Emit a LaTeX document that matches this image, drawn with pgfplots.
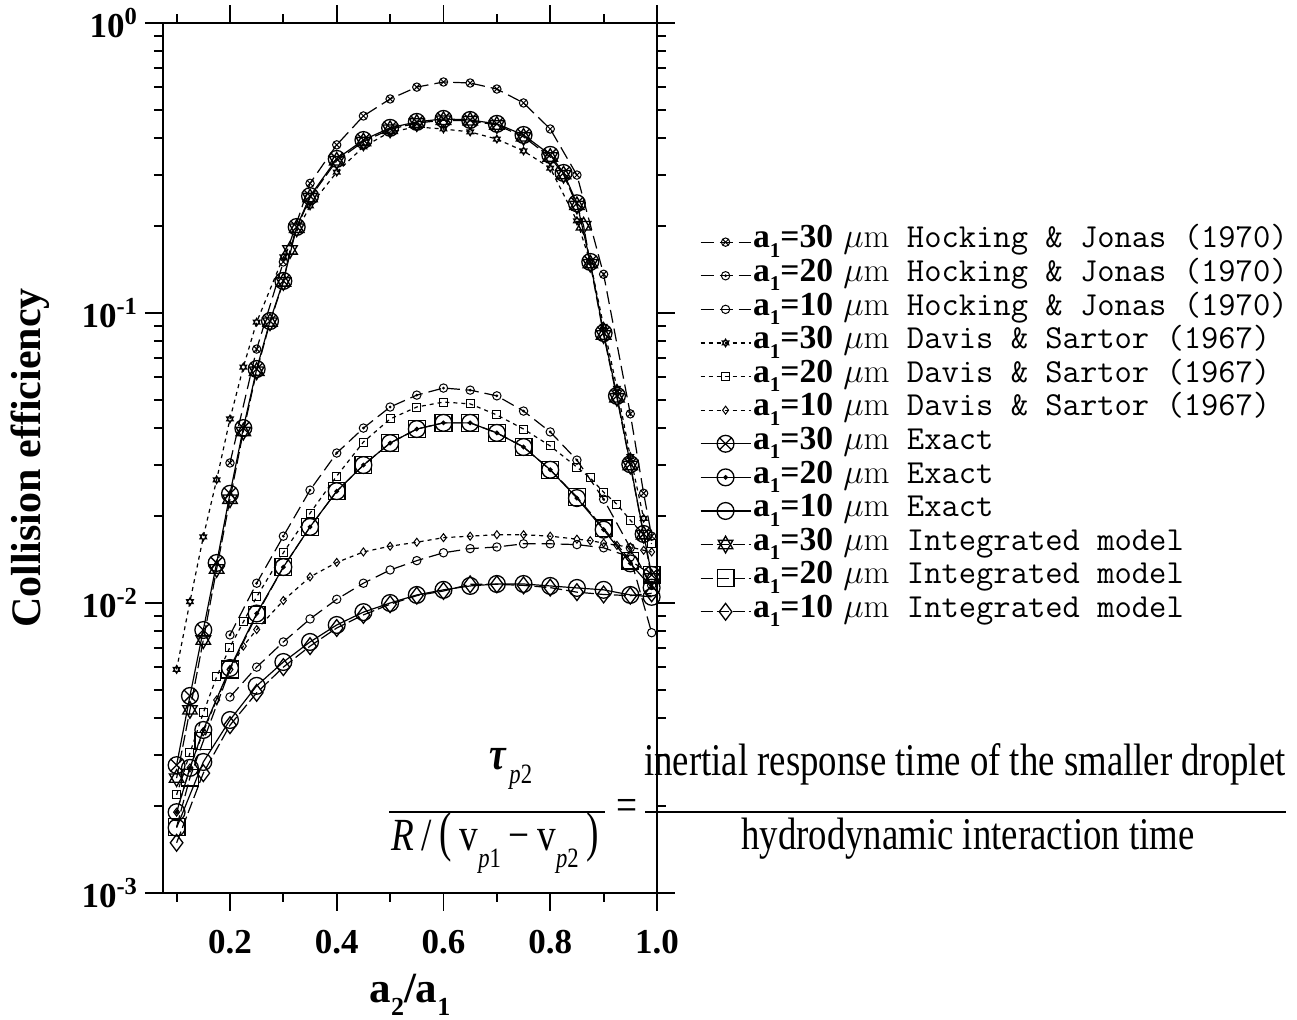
\documentclass[border=0pt]{standalone}
\usepackage{fontspec}
\usepackage{graphicx}
\usepackage{pgfplots}
\pgfplotsset{compat=1.18}
\usetikzlibrary{plotmarks}
\newfontfamily\timesf{Liberation Serif}
\newfontfamily\timescond[FakeStretch=0.81]{Liberation Serif}

% small lowered index for the droplet radii
\newcommand{\idx}[2]{\raisebox{-0.28em}{\fontsize{#2}{#2}\selectfont #1}}
\newcommand{\aone}[1]{{\timesf\bfseries a\idx{1}{10.5}=#1}}

% circle with a centre dot
\pgfdeclareplotmark{odot}{%
  \pgfpathcircle{\pgfpointorigin}{\pgfplotmarksize}\pgfusepathqstroke
  \pgfpathcircle{\pgfpointorigin}{0.2\pgfplotmarksize}\pgfusepathqfillstroke}
% six-pointed star made of two triangles
\pgfdeclareplotmark{hexagram}{%
  \pgfpathmoveto{\pgfpointpolar{90}{\pgfplotmarksize}}%
  \pgfpathlineto{\pgfpointpolar{210}{\pgfplotmarksize}}%
  \pgfpathlineto{\pgfpointpolar{330}{\pgfplotmarksize}}%
  \pgfpathclose
  \pgfpathmoveto{\pgfpointpolar{270}{\pgfplotmarksize}}%
  \pgfpathlineto{\pgfpointpolar{30}{\pgfplotmarksize}}%
  \pgfpathlineto{\pgfpointpolar{150}{\pgfplotmarksize}}%
  \pgfpathclose
  \pgfusepathqstroke}

\pgfplotsset{
  hj/.style={line width=0.6pt, dash pattern=on 6.5pt off 3pt, mark options={solid, line width=0.5pt}, mark size=2.1pt},
  ds/.style={line width=0.6pt, dash pattern=on 2pt off 2pt, mark options={solid, line width=0.5pt}, mark size=2pt},
  ex/.style={line width=0.6pt, solid, mark options={solid, line width=0.65pt}, mark size=4.2pt},
  im/.style={line width=0.6pt, dash pattern=on 6pt off 2pt, mark options={solid, line width=0.65pt}, mark size=4.2pt},
}

\begin{document}
\begin{tikzpicture}
\useasboundingbox (-81.5pt,-63.5pt) rectangle (567pt,446.5pt);
\begin{axis}[
  at={(0pt,0pt)}, anchor=south west,
  scale only axis, width=247pt, height=435pt,
  xmin=0.0745, xmax=1.0,
  ymode=log, ymin=1e-3, ymax=1,
  clip=false,
  xtick={0.2,0.4,0.6,0.8,1.0},
  xticklabels={0.2,0.4,0.6,0.8,1.0},
  minor xtick={0.1,0.3,0.5,0.7,0.9},
  ytick={1e-3,1e-2,1e-1,1},
  yticklabels={10\textsuperscript{-3},10\textsuperscript{-2},10\textsuperscript{-1},10\textsuperscript{0}},
  minor ytick={2e-3,3e-3,4e-3,5e-3,6e-3,7e-3,8e-3,9e-3,
               2e-2,3e-2,4e-2,5e-2,6e-2,7e-2,8e-2,9e-2,
               2e-1,3e-1,4e-1,5e-1,6e-1,7e-1,8e-1,9e-1},
  tick align=outside,
  major tick length=9pt, minor tick length=4.5pt,
  every tick/.style={black, line width=0.9pt},
  axis line style={line width=0.9pt},
  ticklabel style={font=\timesf\bfseries\fontsize{17.5}{17.5}\selectfont},
  xticklabel style={yshift=-6pt},
  xlabel={a\idx{2}{13}/a\idx{1}{13}},
  ylabel={Collision efficiency},
  xlabel style={at={(axis description cs:0.5,0)}, anchor=base, yshift=-55pt,
                font=\timesf\bfseries\fontsize{21.5}{21.5}\selectfont},
  ylabel style={at={(axis description cs:-0.269,0.5)}, anchor=center,
                font=\timesf\bfseries\fontsize{21}{21}\selectfont},
  legend image code/.code={\draw[mark repeat=2,mark phase=2,#1]
      plot coordinates {(0pt,0pt) (12.5pt,0pt) (25pt,0pt)};},
  legend style={at={(1.087,0.7674)}, anchor=north west, draw=none, fill=none,
      inner sep=0pt, outer sep=0pt, row sep=0pt, column sep=1pt,
      font=\fontsize{16.8}{16.8}\selectfont,
      nodes={inner sep=0pt, text height=11.3pt, text depth=5.5pt},
      cells={anchor=west}},
]
% Hocking & Jonas (1970)
\addplot[hj, mark=otimes] coordinates {
 (0.2,0.0304) (0.25,0.0751) (0.3,0.150) (0.35,0.280) (0.4,0.380) (0.45,0.478)
 (0.5,0.547) (0.55,0.601) (0.6,0.626) (0.65,0.621) (0.7,0.592) (0.75,0.530)
 (0.8,0.431) (0.85,0.299) (0.9,0.136) (0.95,0.0449) (0.975,0.0239) (0.99,0.0170)};
\addlegendentry{\aone{30} $\mu$m\texttt{ Hocking \& Jonas (1970)}}
\addplot[hj, mark=odot] coordinates {
 (0.2,0.00776) (0.25,0.0117) (0.3,0.0170) (0.35,0.0245) (0.4,0.0329) (0.45,0.0401)
 (0.5,0.0474) (0.55,0.0521) (0.6,0.0551) (0.65,0.0542) (0.7,0.0518) (0.75,0.0459)
 (0.8,0.0389) (0.85,0.0311) (0.9,0.0228) (0.95,0.0155) (0.99,0.0115)};
\addlegendentry{\aone{20} $\mu$m\texttt{ Hocking \& Jonas (1970)}}
\addplot[hj, mark=o] coordinates {
 (0.2,0.00474) (0.25,0.00601) (0.3,0.00734) (0.35,0.00881) (0.4,0.0103) (0.45,0.0117)
 (0.5,0.0130) (0.55,0.0140) (0.6,0.0149) (0.65,0.0154) (0.7,0.0156) (0.75,0.0160)
 (0.8,0.0160) (0.85,0.0159) (0.9,0.0155) (0.95,0.0144) (0.99,0.0079)};
\addlegendentry{\aone{10} $\mu$m\texttt{ Hocking \& Jonas (1970)}}
% Davis & Sartor (1967)
\addplot[ds, mark=hexagram] coordinates {
 (0.1,0.0059) (0.125,0.0101) (0.15,0.0169) (0.175,0.0266) (0.2,0.0431) (0.225,0.0651)
 (0.25,0.093) (0.3,0.156) (0.35,0.234) (0.4,0.306) (0.45,0.374) (0.5,0.421)
 (0.55,0.438) (0.6,0.431) (0.65,0.421) (0.7,0.398) (0.75,0.362) (0.8,0.316)
 (0.85,0.208) (0.875,0.150) (0.9,0.090) (0.925,0.055) (0.95,0.032) (0.975,0.0196)};
\addlegendentry{\aone{30} $\mu$m\texttt{ Davis \& Sartor (1967)}}
\addplot[ds, mark=square] coordinates {
 (0.1,0.00218) (0.125,0.00304) (0.15,0.00418) (0.175,0.00556) (0.2,0.00705) (0.225,0.0086)
 (0.25,0.0105) (0.3,0.0149) (0.35,0.0204) (0.4,0.0274) (0.45,0.0359) (0.5,0.0431)
 (0.55,0.0474) (0.6,0.0493) (0.65,0.0486) (0.7,0.0445) (0.75,0.0398) (0.8,0.0348)
 (0.85,0.0294) (0.875,0.0270) (0.9,0.0241) (0.925,0.0219) (0.95,0.0193) (0.975,0.0172) (0.99,0.0160)};
\addlegendentry{\aone{20} $\mu$m\texttt{ Davis \& Sartor (1967)}}
\addplot[ds, mark=diamond] coordinates {
 (0.1,0.0019) (0.125,0.0027) (0.15,0.0036) (0.175,0.00463) (0.2,0.0059) (0.225,0.0071)
 (0.25,0.0081) (0.3,0.0102) (0.35,0.0123) (0.4,0.0138) (0.45,0.0150) (0.5,0.0157)
 (0.55,0.0162) (0.6,0.0168) (0.65,0.0170) (0.7,0.0172) (0.75,0.0172) (0.8,0.0170)
 (0.85,0.0166) (0.875,0.0164) (0.9,0.0161) (0.925,0.0158) (0.95,0.0156) (0.975,0.0152) (0.99,0.0150)};
\addlegendentry{\aone{10} $\mu$m\texttt{ Davis \& Sartor (1967)}}
% exact solution
\addplot[ex, mark=otimes] coordinates {
 (0.1,0.00276) (0.125,0.00478) (0.15,0.00807) (0.175,0.01374) (0.2,0.0238) (0.225,0.0401)
 (0.25,0.0641) (0.275,0.0938) (0.3,0.129) (0.325,0.198) (0.35,0.253) (0.4,0.340)
 (0.45,0.395) (0.5,0.435) (0.55,0.456) (0.6,0.467) (0.65,0.463) (0.7,0.449)
 (0.75,0.411) (0.8,0.351) (0.825,0.304) (0.85,0.239) (0.875,0.150) (0.9,0.0853)
 (0.925,0.0518) (0.95,0.0301) (0.975,0.0173) (0.99,0.0125)};
\addlegendentry{\aone{30} $\mu$m\texttt{ Exact}}
\addplot[ex, mark=odot] coordinates {
 (0.1,0.0019) (0.125,0.0027) (0.15,0.00365) (0.2,0.00597) (0.25,0.0092) (0.3,0.0133)
 (0.35,0.0183) (0.4,0.0243) (0.45,0.0299) (0.5,0.0356) (0.55,0.0398) (0.6,0.0418)
 (0.65,0.0418) (0.7,0.0386) (0.75,0.0345) (0.8,0.0288) (0.85,0.0230) (0.9,0.0179)
 (0.95,0.0137) (0.99,0.0113)};
\addlegendentry{\aone{20} $\mu$m\texttt{ Exact}}
\addplot[ex, mark=o] coordinates {
 (0.1,0.00168) (0.15,0.00283) (0.2,0.00395) (0.25,0.00518) (0.3,0.00626) (0.35,0.00734)
 (0.4,0.0084) (0.45,0.0093) (0.5,0.0100) (0.55,0.01066) (0.6,0.0111) (0.65,0.01145)
 (0.7,0.01163) (0.75,0.01163) (0.8,0.01145) (0.85,0.01127) (0.9,0.0111) (0.95,0.01066) (0.99,0.0105)};
\addlegendentry{\aone{10} $\mu$m\texttt{ Exact}}
% integrated model
\addplot[im, mark=hexagram] coordinates {
 (0.1,0.00249) (0.125,0.00428) (0.15,0.00745) (0.175,0.0131) (0.2,0.0228) (0.225,0.039)
 (0.25,0.063) (0.275,0.093) (0.3,0.128) (0.3125,0.165) (0.325,0.196) (0.35,0.250)
 (0.4,0.335) (0.45,0.390) (0.5,0.430) (0.55,0.452) (0.6,0.462) (0.65,0.460)
 (0.7,0.445) (0.75,0.405) (0.8,0.345) (0.825,0.300) (0.85,0.235) (0.8625,0.200)
 (0.875,0.148) (0.9,0.084) (0.925,0.051) (0.95,0.0298) (0.975,0.0172) (0.99,0.0122)};
\addlegendentry{\aone{30} $\mu$m\texttt{ Integrated model}}
\addplot[im, mark=square] coordinates {
 (0.1,0.00169) (0.125,0.0025) (0.15,0.00334) (0.2,0.0059) (0.25,0.0091) (0.3,0.0133)
 (0.35,0.0183) (0.4,0.0243) (0.45,0.0299) (0.5,0.0356) (0.55,0.0398) (0.6,0.0418)
 (0.65,0.0418) (0.7,0.0386) (0.75,0.0345) (0.8,0.0288) (0.85,0.0232) (0.9,0.0181)
 (0.95,0.0140) (0.99,0.0125)};
\addlegendentry{\aone{20} $\mu$m\texttt{ Integrated model}}
\addplot[im, mark=diamond] coordinates {
 (0.1,0.00149) (0.15,0.00259) (0.2,0.00379) (0.25,0.0049) (0.3,0.00601) (0.35,0.0071)
 (0.4,0.0082) (0.45,0.0091) (0.5,0.0099) (0.55,0.0106) (0.6,0.0110) (0.65,0.0116)
 (0.7,0.0116) (0.75,0.0115) (0.8,0.0113) (0.85,0.0109) (0.9,0.0107) (0.95,0.0106) (0.99,0.0108)};
\addlegendentry{\aone{10} $\mu$m\texttt{ Integrated model}}
\end{axis}
% horizontal frame lines run slightly past the vertical ones
\draw[line width=0.9pt] (-9pt,0pt) -- (256pt,0pt);
\draw[line width=0.9pt] (-9pt,435pt) -- (256pt,435pt);
% definition of the inertia parameter
\node[anchor=base, inner sep=0pt] at (174pt,61.5pt)
  {\timescond\fontsize{23}{23}\selectfont{\bfseries\itshape τ}\hspace{1.5pt}\raisebox{-0.3em}{\fontsize{14}{14}\selectfont\itshape p\upshape 2}};
\draw[line width=0.8pt] (113pt,40.5pt) -- (221pt,40.5pt);
\node[anchor=base, inner sep=0pt] at (166pt,21pt)
  {\timescond\fontsize{23}{23}\selectfont\itshape R\upshape\,/\,\scalebox{1}[1.2]{(}\,v\raisebox{-0.35em}{\fontsize{14}{14}\selectfont\itshape p\upshape 1}\,−\,v\raisebox{-0.35em}{\fontsize{14}{14}\selectfont\itshape p\upshape 2}\,\scalebox{1}[1.2]{)}};
\node[anchor=base, inner sep=0pt] at (232pt,36pt) {\timescond\fontsize{23}{23}\selectfont =};
\draw[line width=0.8pt] (241pt,40.5pt) -- (561.5pt,40.5pt);
\node[anchor=base, inner sep=0pt] at (401pt,58.5pt)
  {\timescond\fontsize{22.7}{22.7}\selectfont inertial response time of the smaller droplet};
\node[anchor=base, inner sep=0pt] at (402.5pt,21.5pt)
  {\timescond\fontsize{22.7}{22.7}\selectfont hydrodynamic interaction time};
\end{tikzpicture}
\end{document}
